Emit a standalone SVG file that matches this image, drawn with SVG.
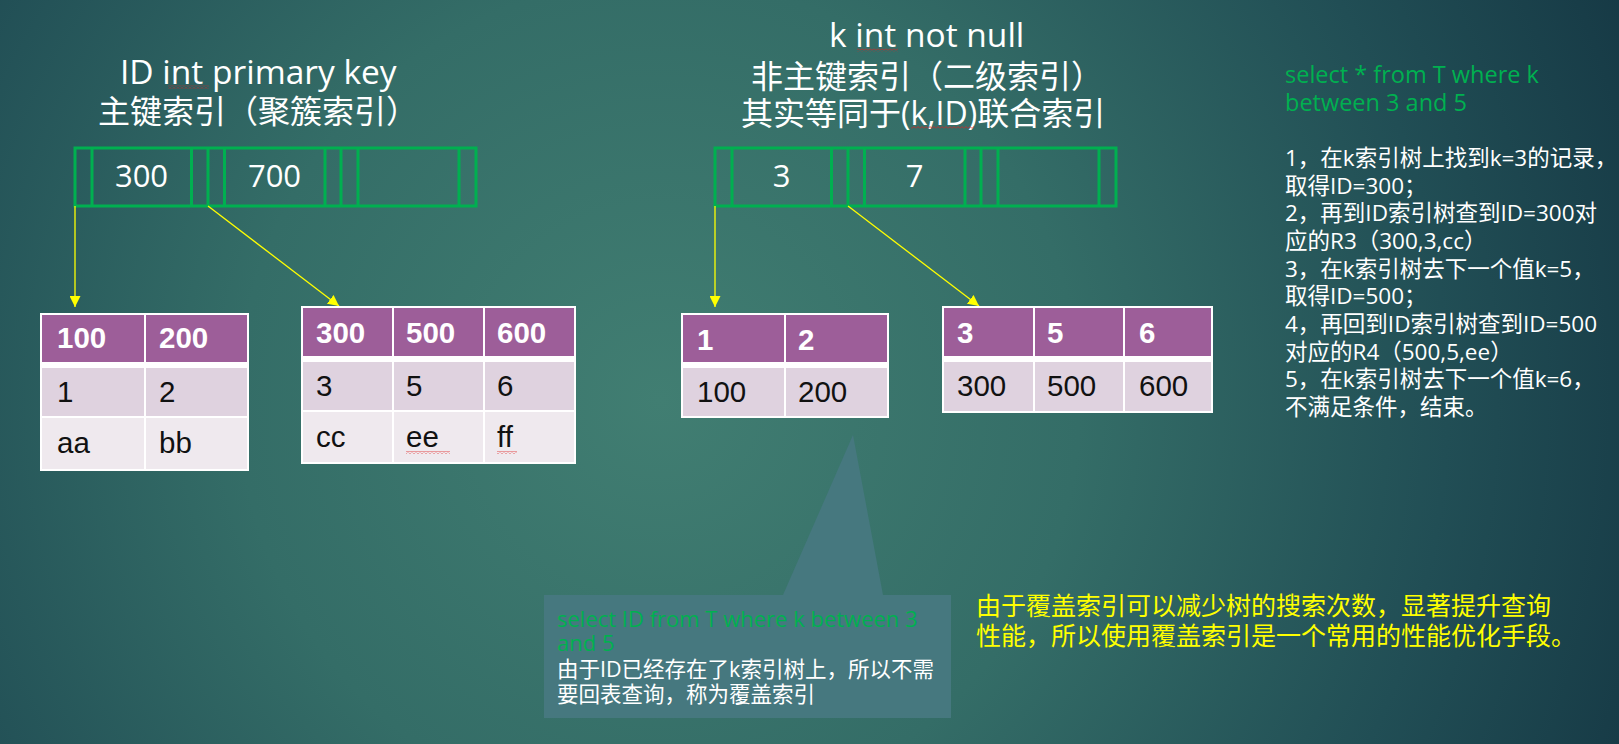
<svg xmlns="http://www.w3.org/2000/svg" width="1619" height="744" viewBox="0 0 1619 744">
<defs>
<radialGradient id="bg" gradientUnits="userSpaceOnUse" cx="660" cy="400" r="1050">
<stop offset="0" stop-color="#417e72"/>
<stop offset="0.4" stop-color="#346d67"/>
<stop offset="0.75" stop-color="#214e55"/>
<stop offset="1" stop-color="#163945"/>
</radialGradient>
<marker id="arr" viewBox="0 0 10 10" refX="10" refY="5" markerWidth="11" markerHeight="11" markerUnits="userSpaceOnUse" orient="auto">
<path d="M0,0 L10,5 L0,10 Z" fill="#ffff00"/>
</marker>
<pattern id="sq" patternUnits="userSpaceOnUse" width="4" height="3">
<path d="M0,2.5 L2,0.5 L4,2.5" fill="none" stroke="#e02020" stroke-width="0.8"/>
</pattern>
<style>
.t{font-family:"Open Sans","Noto Sans CJK SC",sans-serif;fill:#fff}
.ttl{font-size:32px}
.lat{font-size:33.5px}
.box{fill:none;stroke:#00b050;stroke-width:3}
.key{font-family:"Open Sans",sans-serif;font-size:31px;fill:#fff;text-anchor:middle}
.hd{fill:#9d5e99}
.r2{fill:#dfd2df}
.r3{fill:#efe9ee}
.gl{stroke:#fff;stroke-width:2;fill:none}
.th{font-family:"Liberation Sans",Arial,sans-serif;font-weight:bold;font-size:29.5px;fill:#fff}
.td{font-family:"Liberation Sans",Arial,sans-serif;font-size:29.5px;fill:#111}
.con{stroke:#ffff00;stroke-width:1.3;fill:none;marker-end:url(#arr)}
.grn{fill:#00b050}
.note{font-size:22.5px}
.noteg{font-size:23.5px}
.bub{font-size:21.5px}
.bubg{font-size:22px}
.yel{font-size:25px;fill:#ffff00}
</style>
</defs>
<rect width="1619" height="744" fill="url(#bg)"/>

<g id="title-primary">
<text class="t lat" x="120" y="84">ID int primary key</text>
<text class="t ttl" x="98" y="123">主键索引（聚簇索引）</text>
<rect x="168" y="85.5" width="41" height="3" fill="url(#sq)"/>
</g>

<g id="title-secondary">
<text class="t lat" x="829" y="47">k int not null</text>
<text class="t ttl" x="751" y="88">非主键索引（二级索引）</text>
<text class="t ttl" x="741" y="125">其实等同于(k,ID)联合索引</text>
<rect x="857" y="48.5" width="41" height="3" fill="url(#sq)"/>
<rect x="911" y="126" width="63" height="3" fill="url(#sq)"/>
</g>

<g id="index-primary">
<rect class="box" x="75" y="148" width="401" height="58"/>
<path class="box" d="M92,148V206M191.5,148V206M208,148V206M224.5,148V206M325,148V206M341,148V206M358,148V206M459,148V206"/>
<text class="key" x="141.5" y="187">300</text>
<text class="key" x="274.5" y="187">700</text>
</g>

<g id="index-secondary">
<rect class="box" x="715" y="148" width="401" height="58"/>
<path class="box" d="M732,148V206M831.5,148V206M848,148V206M864.5,148V206M965,148V206M981,148V206M998,148V206M1099,148V206"/>
<text class="key" x="781.5" y="187">3</text>
<text class="key" x="914.5" y="187">7</text>
</g>

<g id="connectors">
<path class="con" d="M75,206 V307"/>
<path class="con" d="M208,206 L339,306"/>
<path class="con" d="M715,206 V307"/>
<path class="con" d="M848,206 L979,306"/>
</g>

<g id="leaf-primary-1">
<rect class="hd" x="41" y="314" width="207" height="49"/>
<rect class="r2" x="41" y="368" width="207" height="49"/>
<rect class="r3" x="41" y="417" width="207" height="53"/>
<rect x="41" y="362" width="207" height="6" fill="#fff"/>
<rect class="gl" x="41" y="314" width="207" height="156"/>
<path class="gl" d="M145,314V470M41,417H248"/>
<text class="th" x="57" y="348">100</text>
<text class="th" x="159" y="348">200</text>
<text class="td" x="57" y="402">1</text>
<text class="td" x="159" y="402">2</text>
<text class="td" x="57" y="453">aa</text>
<text class="td" x="159" y="453">bb</text>
</g>

<g id="leaf-primary-2">
<rect class="hd" x="302" y="307" width="273" height="50"/>
<rect class="r2" x="302" y="362" width="273" height="49"/>
<rect class="r3" x="302" y="411" width="273" height="52"/>
<rect x="302" y="356" width="273" height="6" fill="#fff"/>
<rect class="gl" x="302" y="307" width="273" height="156"/>
<path class="gl" d="M393,307V463M484,307V463M302,411H575"/>
<text class="th" x="316" y="343">300</text>
<text class="th" x="406" y="343">500</text>
<text class="th" x="497" y="343">600</text>
<text class="td" x="316" y="396">3</text>
<text class="td" x="406" y="396">5</text>
<text class="td" x="497" y="396">6</text>
<text class="td" x="316" y="447">cc</text>
<text class="td" x="406" y="447">ee</text>
<text class="td" x="497" y="447">ff</text>
<rect x="406" y="451" width="44" height="3" fill="url(#sq)"/>
<rect x="497" y="451" width="20" height="3" fill="url(#sq)"/>
</g>

<g id="leaf-secondary-1">
<rect class="hd" x="682" y="314" width="206" height="49"/>
<rect class="r2" x="682" y="368" width="206" height="49"/>
<rect x="682" y="362" width="206" height="6" fill="#fff"/>
<rect class="gl" x="682" y="314" width="206" height="103"/>
<path class="gl" d="M785,314V417"/>
<text class="th" x="697" y="350">1</text>
<text class="th" x="798" y="350">2</text>
<text class="td" x="697" y="402">100</text>
<text class="td" x="798" y="402">200</text>
</g>

<g id="leaf-secondary-2">
<rect class="hd" x="943" y="307" width="269" height="50"/>
<rect class="r2" x="943" y="362" width="269" height="50"/>
<rect x="943" y="356" width="269" height="6" fill="#fff"/>
<rect class="gl" x="943" y="307" width="269" height="105"/>
<path class="gl" d="M1034,307V412M1124,307V412"/>
<text class="th" x="957" y="343">3</text>
<text class="th" x="1047" y="343">5</text>
<text class="th" x="1139" y="343">6</text>
<text class="td" x="957" y="396">300</text>
<text class="td" x="1047" y="396">500</text>
<text class="td" x="1139" y="396">600</text>
</g>

<g id="callout">
<path d="M544,595 H783 L853,435 L883,595 H951 V718 H544 Z" fill="#46787f"/>
<text class="t bubg grn" x="557" y="627">select ID from T where k between 3</text>
<text class="t bubg grn" x="557" y="651">and 5</text>
<text class="t bub" x="557" y="677">由于ID已经存在了k索引树上，所以不需</text>
<text class="t bub" x="557" y="702">要回表查询，称为覆盖索引</text>
</g>

<g id="note-steps">
<text class="t noteg grn" x="1285" y="83">select * from T where k</text>
<text class="t noteg grn" x="1285" y="111">between 3 and 5</text>
<text class="t note" x="1285" y="166">1，在k索引树上找到k=3的记录，</text>
<text class="t note" x="1285" y="194">取得ID=300；</text>
<text class="t note" x="1285" y="221">2，再到ID索引树查到ID=300对</text>
<text class="t note" x="1285" y="249">应的R3（300,3,cc）</text>
<text class="t note" x="1285" y="277">3，在k索引树去下一个值k=5，</text>
<text class="t note" x="1285" y="304">取得ID=500；</text>
<text class="t note" x="1285" y="332">4，再回到ID索引树查到ID=500</text>
<text class="t note" x="1285" y="360">对应的R4（500,5,ee）</text>
<text class="t note" x="1285" y="387">5，在k索引树去下一个值k=6，</text>
<text class="t note" x="1285" y="415">不满足条件，结束。</text>
</g>

<g id="note-summary">
<text class="t yel" x="976" y="615">由于覆盖索引可以减少树的搜索次数，显著提升查询</text>
<text class="t yel" x="976" y="645">性能，所以使用覆盖索引是一个常用的性能优化手段。</text>
</g>
</svg>
